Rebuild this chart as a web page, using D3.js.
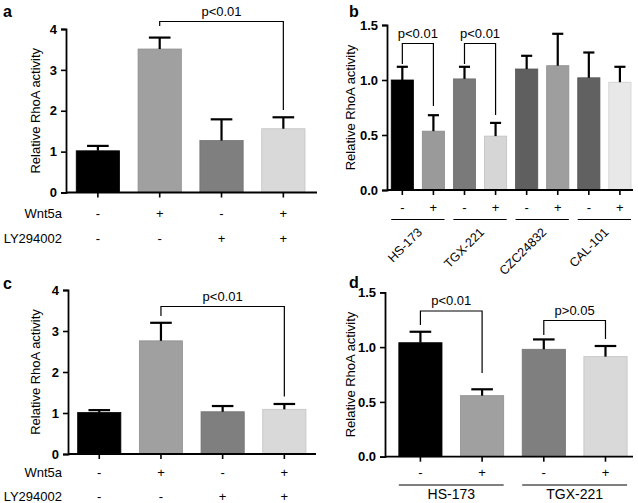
<!DOCTYPE html>
<html lang="en">
<head>
<meta charset="UTF-8">
<title>RhoA activity panels</title>
<style>
  body { margin: 0; background: #fff; }
  svg { display: block; font-family: "Liberation Sans", Arial, sans-serif; }
  .tick text { font-weight: bold; font-size: 13px; }
</style>
</head>
<body>
<div id="chart"></div>
<script src="https://d3js.org/d3.v7.min.js"></script>
<script>
// ---- data ----
var aValues = [1.02, 3.51, 1.27, 1.56];
var aErrors = [0.12, 0.28, 0.52, 0.28];
var aColors = ["#000000", "#a0a0a0", "#7f7f7f", "#d9d9d9"];
var aTicks = [0, 1, 2, 3, 4];

var cValues = [1.01, 2.76, 1.03, 1.09];
var cErrors = [0.06, 0.44, 0.14, 0.13];

var wnt5a = ["-", "+", "-", "+"];
var ly294002 = ["-", "-", "+", "+"];

var bValues = [1.00, 0.535, 1.01, 0.49, 1.10, 1.13, 1.02, 0.98];
var bErrors = [0.12, 0.145, 0.11, 0.12, 0.12, 0.29, 0.23, 0.14];
var bColors = ["#000000", "#9a9a9a", "#7a7a7a", "#d6d6d6", "#5f5f5f", "#9e9e9e", "#616161", "#e8e8e8"];
var bSigns = ["-", "+", "-", "+", "-", "+", "-", "+"];
var bGroups = ["HS-173", "TGX-221", "CZC24832", "CAL-101"];
var smallTicks = [0, 0.5, 1.0, 1.5];

var dValues = [1.04, 0.557, 0.98, 0.913];
var dErrors = [0.10, 0.058, 0.09, 0.097];
var dSigns = ["-", "+", "-", "+"];
var dGroups = ["HS-173", "TGX-221"];

var svg = d3.select("#chart").append("svg")
    .attr("width", 638)
    .attr("height", 503);

// draws axes, bars and error bars for one panel
function panel(opt) {
  var g = svg.append("g");
  var idx = d3.range(opt.values.length);
  var x = d3.scaleBand().domain(idx)
      .range([opt.x0, opt.x1])
      .paddingInner(opt.pin)
      .paddingOuter(opt.pout)
      .align(opt.align);
  var y = d3.scaleLinear().domain(opt.domain).range([opt.y0, opt.y1]);

  // bars
  g.selectAll("rect.bar").data(opt.values).enter().append("rect")
      .attr("class", "bar")
      .attr("x", function(d, i) { return x(i); })
      .attr("width", x.bandwidth())
      .attr("y", function(d) { return y(d); })
      .attr("height", function(d) { return y(0) - y(d); })
      .attr("fill", function(d, i) { return opt.colors[i]; })
      .attr("stroke", function(d, i) { return d3.color(opt.colors[i]).darker(0.3); })
      .attr("stroke-width", 0.8);

  // upper error bars
  var bw = x.bandwidth();
  g.selectAll("line.err").data(opt.values).enter().append("line")
      .attr("x1", function(d, i) { return x(i) + bw / 2; })
      .attr("x2", function(d, i) { return x(i) + bw / 2; })
      .attr("y1", function(d) { return y(d); })
      .attr("y2", function(d, i) { return y(d + opt.errors[i]); })
      .attr("stroke", "#000").attr("stroke-width", 2.2);
  g.selectAll("line.cap").data(opt.values).enter().append("line")
      .attr("x1", function(d, i) { return x(i) + bw / 4; })
      .attr("x2", function(d, i) { return x(i) + bw * 3 / 4; })
      .attr("y1", function(d, i) { return y(d + opt.errors[i]); })
      .attr("y2", function(d, i) { return y(d + opt.errors[i]); })
      .attr("stroke", "#000").attr("stroke-width", 2.2);

  // y axis
  g.append("g")
      .attr("transform", "translate(" + opt.x0 + ",0)")
      .call(d3.axisLeft(y).tickValues(opt.ticks).tickFormat(opt.fmt).tickSize(5).tickPadding(4))
      .call(function(a) {
        a.select(".domain").attr("stroke-width", 1.8);
        a.selectAll(".tick line").attr("stroke-width", 1.6);
      });

  // x axis with a tick under every bar
  g.append("line")
      .attr("x1", opt.x0).attr("x2", opt.x1)
      .attr("y1", y(0)).attr("y2", y(0))
      .attr("stroke", "#000").attr("stroke-width", 1.8);
  g.selectAll("line.xt").data(idx).enter().append("line")
      .attr("x1", function(i) { return x(i) + bw / 2; })
      .attr("x2", function(i) { return x(i) + bw / 2; })
      .attr("y1", y(0)).attr("y2", y(0) + 5)
      .attr("stroke", "#000").attr("stroke-width", 1.6);

  // y title
  g.append("text")
      .attr("transform", "translate(" + opt.titleX + "," + (opt.y0 + opt.y1) / 2 + ") rotate(-90)")
      .attr("text-anchor", "middle")
      .style("font-size", "13px")
      .text("Relative RhoA activity");

  // panel letter
  svg.append("text")
      .attr("x", opt.letterX).attr("y", opt.letterY)
      .style("font-size", "16px").style("font-weight", "bold")
      .text(opt.letter);

  // significance brackets
  (opt.brackets || []).forEach(function(b) {
    var xa = x(b.from) + bw / 2, xb = x(b.to) + bw / 2;
    g.append("path")
        .attr("d", "M" + xa + "," + b.leftEnd + "V" + b.top + "H" + xb + "V" + b.rightEnd)
        .attr("fill", "none").attr("stroke", "#000").attr("stroke-width", 1.2);
    g.append("text")
        .attr("x", (xa + xb) / 2).attr("y", b.top - 6)
        .attr("text-anchor", "middle")
        .style("font-size", "13px")
        .text(b.label);
  });

  return { x: x, y: y, g: g };
}

function signRow(p, signs, yPos, label, labelX) {
  var bw = p.x.bandwidth();
  p.g.selectAll(null).data(signs).enter().append("text")
      .attr("x", function(d, i) { return p.x(i) + bw / 2; })
      .attr("y", yPos)
      .attr("text-anchor", "middle")
      .style("font-size", "13px")
      .text(function(d) { return d; });
  if (label) {
    p.g.append("text")
        .attr("x", labelX).attr("y", yPos)
        .attr("text-anchor", "end")
        .style("font-size", "13px")
        .text(label);
  }
}

// group underline + name below each pair of bars
function groupRow(p, groups, lineY, textY, rotated, size) {
  var bw = p.x.bandwidth();
  groups.forEach(function(name, k) {
    var xa = p.x(2 * k), xb = p.x(2 * k + 1) + bw;
    p.g.append("line")
        .attr("x1", xa).attr("x2", xb)
        .attr("y1", lineY).attr("y2", lineY)
        .attr("stroke", "#000").attr("stroke-width", 1.2);
    var cx = (xa + xb) / 2;
    if (rotated) {
      p.g.append("text")
          .attr("transform", "translate(" + (cx + 5) + "," + textY + ") rotate(-45)")
          .attr("text-anchor", "end")
          .style("font-size", size + "px")
          .text(name);
    } else {
      p.g.append("text")
          .attr("x", cx).attr("y", textY)
          .attr("text-anchor", "middle")
          .style("font-size", size + "px")
          .text(name);
    }
  });
}

// ---- panel a ----
var pa = panel({
  values: aValues, errors: aErrors, colors: aColors,
  x0: 66, x1: 317, pin: 0.3, pout: 0.18, align: 0.46,
  domain: [0, 4], y0: 192.5, y1: 29, ticks: aTicks, fmt: d3.format("d"),
  titleX: 40, letter: "a", letterX: 3, letterY: 17,
  brackets: [{ from: 1, to: 3, top: 21.5, leftEnd: 26, rightEnd: 110, label: "p<0.01" }]
});
signRow(pa, wnt5a, 218, "Wnt5a", 62);
signRow(pa, ly294002, 243, "LY294002", 62);

// ---- panel b ----
var pb = panel({
  values: bValues, errors: bErrors, colors: bColors,
  x0: 387, x1: 633, pin: 0.286, pout: 0.1, align: 0.68,
  domain: [0, 1.5], y0: 190, y1: 25, ticks: smallTicks, fmt: d3.format(".1f"),
  titleX: 355, letter: "b", letterX: 349, letterY: 17,
  brackets: [
    { from: 0, to: 1, top: 43.5, leftEnd: 64, rightEnd: 106, label: "p<0.01" },
    { from: 2, to: 3, top: 43.5, leftEnd: 64, rightEnd: 115, label: "p<0.01" }
  ]
});
signRow(pb, bSigns, 211.5);
groupRow(pb, bGroups, 219.5, 233, true, 12.5);

// ---- panel c ----
var pc = panel({
  values: cValues, errors: cErrors, colors: aColors,
  x0: 68, x1: 316, pin: 0.3, pout: 0.16, align: 0.49,
  domain: [0, 4], y0: 454, y1: 290, ticks: aTicks, fmt: d3.format("d"),
  titleX: 40, letter: "c", letterX: 3, letterY: 289,
  brackets: [{ from: 1, to: 3, top: 306.5, leftEnd: 316, rightEnd: 396.5, label: "p<0.01" }]
});
signRow(pc, wnt5a, 477, "Wnt5a", 62);
signRow(pc, ly294002, 501, "LY294002", 62);

// ---- panel d ----
var pd = panel({
  values: dValues, errors: dErrors, colors: aColors,
  x0: 385, x1: 633, pin: 0.3, pout: 0.16, align: 0.7,
  domain: [0, 1.5], y0: 456.7, y1: 292.3, ticks: smallTicks, fmt: d3.format(".1f"),
  titleX: 355, letter: "d", letterX: 349, letterY: 288,
  brackets: [
    { from: 0, to: 1, top: 311, leftEnd: 325, rightEnd: 373, label: "p<0.01" },
    { from: 2, to: 3, top: 320.5, leftEnd: 335, rightEnd: 339, label: "p>0.05" }
  ]
});
signRow(pd, dSigns, 477);
groupRow(pd, dGroups, 485, 499, false, 14);
</script>
</body>
</html>
